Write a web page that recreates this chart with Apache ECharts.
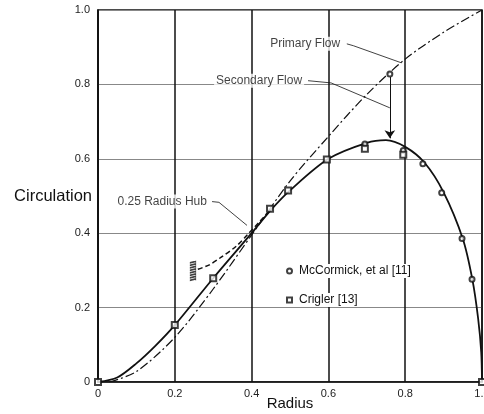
<!DOCTYPE html>
<html>
<head>
<meta charset="utf-8">
<script src="https://cdn.jsdelivr.net/npm/echarts@6/dist/echarts.min.js"></script>
<style>
  html, body { margin: 0; padding: 0; background: #fff; }
  #chart { width: 484px; height: 414px; }
</style>
</head>
<body>
<div id="chart"></div>
<script>
const font = 'Liberation Sans, Arial, sans-serif'

// axis ticks
const radiusTicks = [0, 0.2, 0.4, 0.6, 0.8, 1.0]
const circulationTicks = [0, 0.2, 0.4, 0.6, 0.8, 1.0]

// Primary Flow (dash-dot)
const primaryFlow = [
  [0.03, 0], [0.1, 0.028], [0.2, 0.12], [0.3, 0.25], [0.4, 0.395],
  [0.5, 0.54], [0.6, 0.66], [0.7, 0.773], [0.8, 0.868],
  [0.9, 0.94], [1.0, 1.0]
]
// Secondary Flow / total (solid)
const secondaryFlow = [
  [0, 0], [0.05, 0.012], [0.1, 0.05], [0.15, 0.098], [0.2, 0.153],
  [0.3, 0.279], [0.4, 0.4], [0.45, 0.462], [0.5, 0.515], [0.6, 0.6],
  [0.7, 0.643], [0.75, 0.65], [0.8, 0.632], [0.85, 0.59], [0.9, 0.51],
  [0.95, 0.385], [0.975, 0.275], [0.99, 0.17], [0.998, 0.08], [1.0, 0]
]
// 0.25 Radius Hub (dashed)
const hubFlow = [
  [0.26, 0.303], [0.29, 0.315], [0.32, 0.335], [0.36, 0.365],
  [0.39, 0.397], [0.42, 0.43], [0.45, 0.464]
]
// McCormick, et al [11]
const mccormick = [
  [0.76, 0.828], [0.695, 0.64], [0.795, 0.622], [0.846, 0.587],
  [0.895, 0.509], [0.948, 0.386], [0.974, 0.276]
]
// Crigler [13]
const crigler = [
  [0, 0], [0.2, 0.153], [0.3, 0.279], [0.448, 0.466], [0.495, 0.515],
  [0.596, 0.598], [0.695, 0.627], [0.795, 0.611], [1.0, 0]
]
// hub wall
const hubWall = [[0.247, 0.3]]
// secondary flow arrow
const arrowFrom = [0.76, 0.82]
const arrowTo = [0.76, 0.655]

const tickFmt = v => (v === 0 ? '0' : v.toFixed(1))

const labelStyle = {
  show: true,
  color: '#111',
  fontFamily: font,
  fontSize: 12,
  backgroundColor: '#fff',
  padding: [1, 2],
  position: 'left',
  distance: 2
}

const leader = (data) => ({
  type: 'line',
  data: data,
  showSymbol: false,
  silent: true,
  lineStyle: { color: '#111', width: 0.8 },
  z: 3
})

const chart = echarts.init(document.getElementById('chart'))

chart.setOption({
  animation: false,
  textStyle: { fontFamily: font },
  grid: {
    left: 98,
    right: 2,
    top: 10,
    bottom: 32,
    outerBoundsMode: 'none',
    containLabel: false,
    show: true,
    borderColor: '#111',
    borderWidth: 1.5
  },
  legend: {
    data: ['McCormick, et al [11]', 'Crigler [13]'],
    orient: 'vertical',
    left: 281,
    top: 259,
    itemWidth: 5,
    itemHeight: 5,
    itemGap: 15,
    itemStyle: { borderWidth: 1 },
    textStyle: {
      fontFamily: font,
      fontSize: 12,
      color: '#111',
      backgroundColor: '#fff',
      padding: [1, 2]
    }
  },
  xAxis: {
    type: 'value',
    min: 0,
    max: 1,
    interval: 0.2,
    name: 'Radius',
    nameLocation: 'middle',
    nameGap: 14,
    nameMoveOverlap: false,
    nameTextStyle: { fontSize: 15, color: '#111' },
    axisLine: { lineStyle: { color: '#111', width: 1.5 } },
    axisTick: { show: false },
    axisLabel: {
      fontSize: 11,
      color: '#222',
      margin: 6,
      formatter: v => (radiusTicks.includes(v) ? tickFmt(v) : '')
    },
    splitLine: { lineStyle: { color: '#111', width: 1.5 } }
  },
  yAxis: {
    type: 'value',
    min: 0,
    max: 1,
    interval: 0.2,
    name: 'Circulation',
    nameLocation: 'middle',
    nameRotate: 0,
    nameGap: 6,
    nameMoveOverlap: false,
    nameTextStyle: { fontSize: 16.5, color: '#111', align: 'right' },
    axisLine: { lineStyle: { color: '#111', width: 1.5 } },
    axisTick: { show: false },
    axisLabel: {
      fontSize: 11,
      color: '#222',
      margin: 8,
      formatter: v => (circulationTicks.includes(v) ? tickFmt(v) : '')
    },
    splitLine: { lineStyle: { color: '#888', width: 1 } }
  },
  series: [
    {
      name: 'Primary Flow',
      type: 'line',
      data: primaryFlow,
      smooth: 0.3,
      showSymbol: false,
      lineStyle: { color: '#111', width: 1.2, type: [9, 3, 2, 3] },
      z: 2
    },
    {
      name: 'Secondary Flow',
      type: 'line',
      data: secondaryFlow,
      smooth: 0.3,
      showSymbol: false,
      lineStyle: { color: '#111', width: 1.8 },
      z: 2,
      markLine: {
        silent: true,
        symbol: ['none', 'arrow'],
        symbolSize: 8,
        label: { show: false },
        lineStyle: { color: '#111', width: 1, type: 'solid' },
        data: [[{ coord: arrowFrom }, { coord: arrowTo }]]
      }
    },
    {
      name: '0.25 Radius Hub',
      type: 'line',
      data: hubFlow,
      smooth: 0.3,
      showSymbol: false,
      lineStyle: { color: '#111', width: 1.5, type: [5, 3] },
      z: 2
    },
    {
      name: 'McCormick, et al [11]',
      type: 'scatter',
      data: mccormick,
      symbol: 'emptyCircle',
      symbolSize: 5,
      itemStyle: { color: '#111', borderColor: '#111', borderWidth: 1 },
      z: 5
    },
    {
      name: 'Crigler [13]',
      type: 'scatter',
      data: crigler,
      symbol: 'emptyRect',
      symbolSize: 6,
      itemStyle: { color: '#111', borderColor: '#111', borderWidth: 1 },
      z: 5
    },
    {
      name: 'hub wall',
      type: 'scatter',
      data: hubWall,
      symbol: 'path://M6,0 L6,40 M6,2 L0,5 M6,7 L0,10 M6,12 L0,15 M6,17 L0,20 M6,22 L0,25 M6,27 L0,30 M6,32 L0,35 M6,37 L0,40',
      symbolSize: [6, 20],
      itemStyle: { color: 'none', borderColor: '#111', borderWidth: 1 },
      silent: true,
      z: 5
    },
    leader([[0.648, 0.909], [0.665, 0.904], [0.79, 0.858]]),
    leader([[0.547, 0.81], [0.607, 0.804], [0.76, 0.737]]),
    leader([[0.297, 0.485], [0.315, 0.483], [0.388, 0.421]]),
    {
      name: 'annotations',
      type: 'scatter',
      symbolSize: 0,
      silent: true,
      z: 6,
      label: labelStyle,
      data: [
        { value: [0.641, 0.909], label: { formatter: 'Primary Flow' } },
        { value: [0.542, 0.81], label: { formatter: 'Secondary Flow' } },
        { value: [0.294, 0.485], label: { formatter: '0.25 Radius Hub' } }
      ]
    }
  ]
})
</script>
</body>
</html>
